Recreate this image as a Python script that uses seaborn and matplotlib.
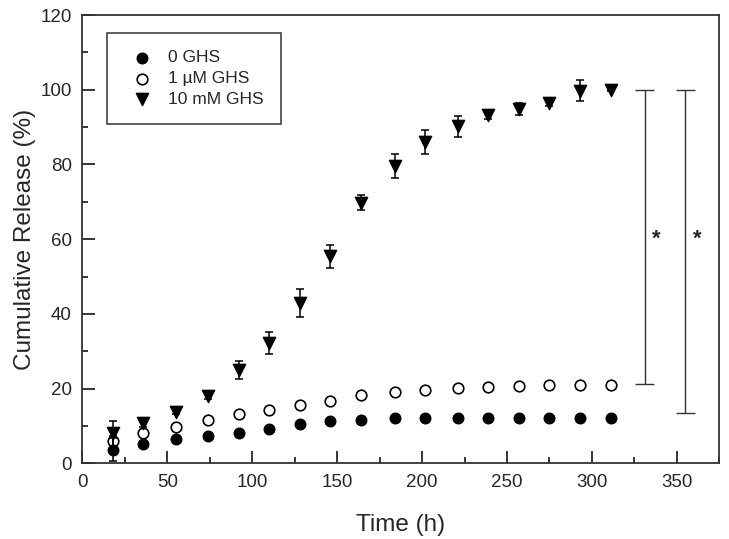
import numpy as np
import pandas as pd
import matplotlib
matplotlib.use("Agg")
import matplotlib.pyplot as plt
import seaborn as sns
from matplotlib.ticker import MultipleLocator

# data
time_h = [18, 36, 55, 74, 92, 110, 128, 146, 164, 184, 202, 221, 239, 257, 275, 293, 311]

ghs_0 = [3.7, 5.1, 6.4, 7.3, 8.0, 9.2, 10.4, 11.3, 11.6, 12.1, 12.0, 12.0, 12.0, 12.0, 12.0, 12.0, 12.0]
ghs_0_err = [3.0, 0.5, 0.4, 0.4, 0.3, 0.3, 0.3, 0.3, 0.3, 0.3, 0.3, 0.3, 0.3, 0.3, 0.3, 0.3, 0.3]

ghs_1um = [6.1, 8.0, 9.8, 11.5, 13.1, 14.3, 15.6, 16.6, 18.2, 19.2, 19.6, 20.1, 20.5, 20.7, 20.9, 20.9, 20.9]
ghs_1um_err = [1.2, 0.5, 0.4, 0.4, 0.4, 0.4, 0.4, 0.4, 1.0, 0.4, 0.4, 0.4, 0.4, 0.4, 0.4, 0.4, 0.4]

ghs_10mm = [8.0, 10.9, 13.8, 18.0, 25.1, 32.2, 43.0, 55.4, 69.7, 79.5, 86.0, 90.2, 93.3, 94.9, 96.4, 99.7, 100.0]
ghs_10mm_err = [3.4, 1.3, 0.6, 0.8, 2.4, 3.0, 3.7, 3.1, 2.0, 3.2, 3.2, 2.8, 1.0, 1.6, 0.8, 2.8, 0.3]

labels = ["0 GHS", "1 µM GHS", "10 mM GHS"]

# significance brackets
sig_x = [331, 355]
sig_low = [21.2, 13.5]
sig_high = [100, 100]
sig_text_y = 60

sns.set_style("ticks")
plt.rcParams["font.family"] = ["Liberation Sans", "DejaVu Sans"]

fig = plt.figure(figsize=(7.29, 5.39), dpi=100)
ax = fig.add_axes([0.1129, 0.1404, 0.8738, 0.8317])

df = pd.DataFrame({
    "time": time_h * 3,
    "release": ghs_1um + ghs_0 + ghs_10mm,
    "err": ghs_1um_err + ghs_0_err + ghs_10mm_err,
    "group": [labels[1]] * len(time_h) + [labels[0]] * len(time_h) + [labels[2]] * len(time_h),
})

styles = {
    labels[1]: dict(marker="o", s=58, facecolor="white", edgecolor="black", linewidth=1.2),
    labels[0]: dict(marker="o", s=58, facecolor="black", edgecolor="black", linewidth=1.0),
    labels[2]: dict(marker="v", s=78, facecolor="black", edgecolor="black", linewidth=1.0),
}

for i, g in enumerate([labels[1], labels[0], labels[2]]):
    sub = df[df["group"] == g]
    ax.errorbar(sub["time"], sub["release"], yerr=sub["err"], fmt="none",
                ecolor="black", elinewidth=1.1, capsize=3.2, capthick=1.1,
                zorder=2 + i)
    sns.scatterplot(data=sub, x="time", y="release", ax=ax, label=g,
                    zorder=3 + i, **styles[g])

# brackets
cap = 5.6
for x, lo, hi in zip(sig_x, sig_low, sig_high):
    ax.vlines(x, lo, hi, color="#333333", lw=1.0)
    ax.hlines([lo, hi], x - cap, x + cap, color="#333333", lw=1.0)
    ax.text(x + 7, sig_text_y, "*", fontsize=16, fontweight="bold",
            ha="center", va="center")

ax.set_xlim(0, 375)
ax.set_ylim(0, 120)
ax.xaxis.set_major_locator(MultipleLocator(50))
ax.xaxis.set_minor_locator(MultipleLocator(25))
ax.yaxis.set_major_locator(MultipleLocator(20))
ax.yaxis.set_minor_locator(MultipleLocator(10))
ax.tick_params(which="both", direction="in", top=False, right=False,
               labelsize=13.5, width=1.1, color="black")
ax.tick_params(which="major", length=9, pad=7.5)
ax.tick_params(which="minor", length=4.3)
for sp in ax.spines.values():
    sp.set_visible(True)
    sp.set_color("#333333")
    sp.set_linewidth(1.3)

ax.set_xlabel("Time (h)", fontsize=17.5, labelpad=17)
ax.set_ylabel("Cumulative Release (%)", fontsize=17.5, labelpad=3)

h, l = ax.get_legend_handles_labels()
order = [l.index(x) for x in labels]
leg = ax.legend([h[k] for k in order], [l[k] for k in order],
                loc="upper left", bbox_to_anchor=(0.039, 0.96),
                fontsize=12.5, frameon=True, fancybox=False,
                edgecolor="black", borderpad=1.0, handletextpad=0.5,
                labelspacing=0.32, borderaxespad=0)
leg.get_frame().set_linewidth(1.1)

fig.savefig("out.png", dpi=100)
